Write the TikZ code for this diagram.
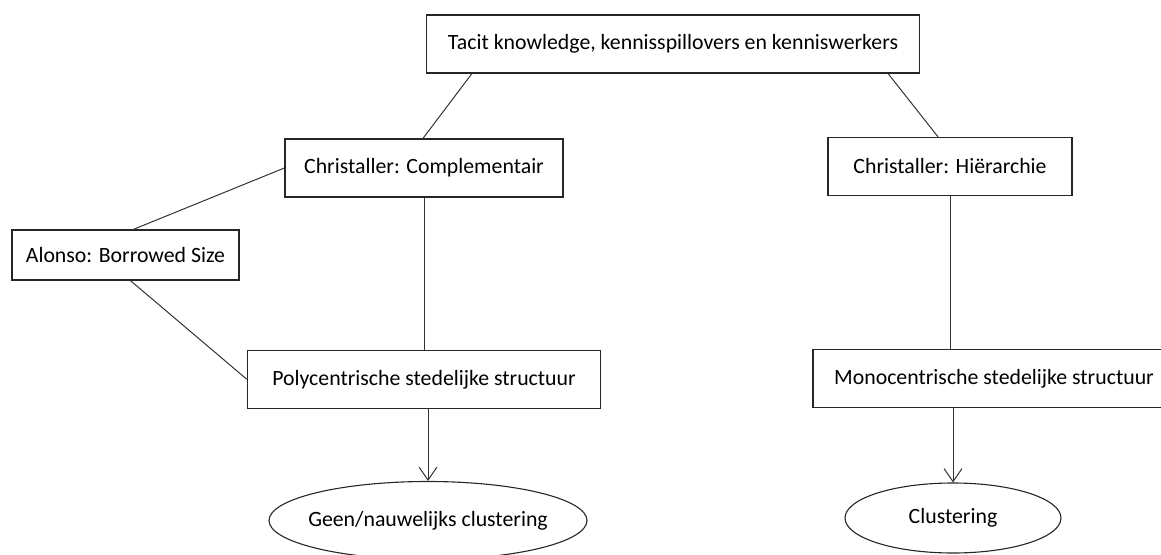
\documentclass[tikz,border=0pt]{standalone}
\usepackage{fontspec}
\setmainfont{Carlito}
\usetikzlibrary{arrows.meta,positioning,shapes.geometric}
\tikzset{
  blk/.style={draw=black!85, line width=1.3pt, rectangle, minimum height=58pt, inner sep=0pt, align=center, font=\fontsize{21.8}{26}\selectfont},
  oval/.style={draw=black!85, line width=1.1pt, ellipse, inner sep=0pt, inner xsep=-40pt, align=center, font=\fontsize{21.8}{26}\selectfont},
  lnk/.style={draw=black!80, line width=1pt},
  arr/.style={lnk, -{Straight Barb[length=13pt, width=18pt, line width=1pt]}},
}
\begin{document}
\begin{tikzpicture}[x=1pt, y=-1pt]
  \useasboundingbox (0,0) rectangle (1161,554);
  % top row
  \node[blk, minimum width=493pt] (top) at (673,44) {Tacit knowledge, kennisspillovers en kenniswerkers};
  \node[blk, minimum width=278pt] (compl) at (424,168) {Christaller: Complementair};
  \node[blk, minimum width=244pt] (hier) at (950,166.5) {Christaller: Hiërarchie};
  \node[blk, minimum width=227pt, minimum height=50pt] (alonso) at (125.5,255) {Alonso: Borrowed Size};
  % structures
  \node[blk, minimum width=353pt, below=152pt of compl] (poly) {Polycentrische stedelijke structuur};
  \node[blk, minimum width=362pt, below=153pt of hier, xshift=44pt] (mono) {Monocentrische stedelijke structuur};
  % outcomes
  \node[oval, minimum width=318pt, minimum height=78pt, below=72pt of poly, xshift=4pt] (geen) {Geen/nauwelijks clustering};
  \node[oval, minimum width=216pt, minimum height=70pt, below=74pt of mono, xshift=-41pt] (clus) {Clustering};
  \draw[lnk] ([xshift=46pt]top.south west) -- ([xshift=-1pt]compl.north);
  \draw[lnk] ([xshift=-32pt]top.south east) -- ([xshift=-12pt]hier.north);
  \draw[lnk] (compl.west) -- ([xshift=8pt]alonso.north);
  \draw[lnk] ([xshift=5pt]alonso.south) -- (poly.west);
  \draw[lnk] (compl.south) -- (compl.south |- poly.north);
  \draw[lnk] (hier.south) -- (hier.south |- mono.north);
  \draw[arr] (geen.north |- poly.south) -- (geen.north);
  \draw[arr] (clus.north |- mono.south) -- (clus.north);
\end{tikzpicture}
\end{document}
